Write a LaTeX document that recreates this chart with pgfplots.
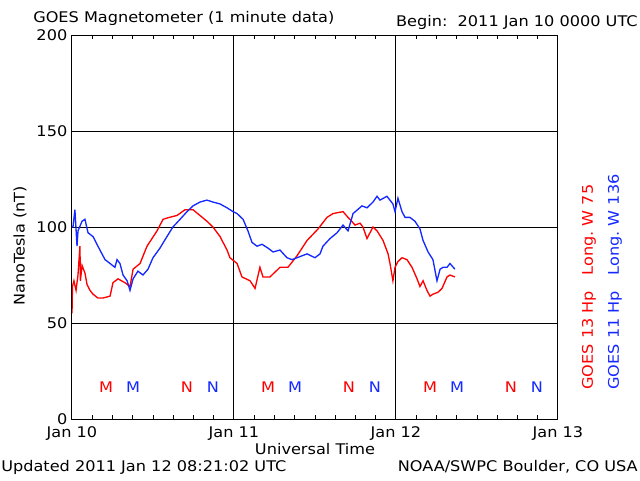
\documentclass[border=0pt]{standalone}
\usepackage{pgfplots}
\pgfplotsset{compat=1.18}
\usepackage{fontspec}
\setmainfont[FakeStretch=1.1]{DejaVu Sans}
\definecolor{gred}{RGB}{255,0,0}
\definecolor{gblue}{RGB}{20,40,255}
\begin{document}
\begin{tikzpicture}[font=\fontsize{11}{13}\selectfont]
\path[use as bounding box] (-54pt,-45.75pt) rectangle (426pt,314.25pt);
\begin{axis}[
  at={(0,0)}, anchor=south west,
  scale only axis, width=364.5pt, height=288pt,
  xmin=0, xmax=3, ymin=0, ymax=200,
  xtick={0,1,2,3}, xticklabels={Jan 10,Jan 11,Jan 12,Jan 13},
  minor xtick={0.125,0.25,0.375,0.5,0.625,0.75,0.875,1.125,1.25,1.375,1.5,1.625,1.75,1.875,2.125,2.25,2.375,2.5,2.625,2.75,2.875},
  ytick={0,50,100,150,200}, yticklabels={0,50,100,150,200},
  major tick length=0pt, minor tick length=3pt,
  tick align=inside, tick pos=both,
  xmajorgrids, ymajorgrids,
  major grid style={black, line width=0.75pt},
  axis line style={black, line width=0.75pt},
  every tick/.style={black, line width=0.6pt},
  xticklabel style={yshift=-2pt},
  clip=true,
]
% GOES 13 (red)
\addplot[gred, line width=1pt] coordinates {
(0.000,55)(0.003,69)(0.012,72)(0.025,67)(0.037,75)(0.049,90)(0.052,72)(0.062,80)
(0.080,76)(0.093,70)(0.111,67)(0.130,65)(0.160,63)(0.191,63)(0.235,64)(0.253,71)
(0.284,73)(0.327,71)(0.358,69)(0.377,78)(0.420,81)(0.463,90)(0.525,98)(0.562,104)
(0.600,105)(0.648,106)(0.698,109)(0.747,109)(0.790,106)(0.833,103)(0.870,100)(0.914,95)
(0.957,88)(0.975,84)(1.019,81)(1.049,74)(1.099,72)(1.130,68)(1.160,79)(1.179,74)
(1.222,74)(1.284,79)(1.333,79)(1.389,85)(1.451,93)(1.519,99)(1.574,105)(1.611,107)
(1.673,108)(1.704,105)(1.716,104)(1.747,101)(1.778,102)(1.796,100)(1.821,94)(1.858,100)
(1.883,98)(1.920,93)(1.951,86)(1.963,81)(1.981,72)(1.994,79)(2.012,82)(2.037,84)
(2.068,83)(2.099,79)(2.130,73)(2.148,69)(2.167,72)(2.191,67)(2.210,64)(2.228,65)
(2.259,66)(2.284,68)(2.315,74)(2.333,75)(2.364,74)
};
% GOES 11 (blue)
\addplot[gblue, line width=1pt] coordinates {
(0.000,100)(0.006,100)(0.018,109)(0.031,90)(0.037,98)(0.062,103)(0.080,104)(0.099,97)
(0.130,95)(0.154,91)(0.185,86)(0.204,83)(0.235,81)(0.265,79)(0.278,83)(0.296,81)
(0.315,75)(0.340,72)(0.358,67)(0.377,73)(0.407,77)(0.438,75)(0.469,78)(0.500,84)
(0.543,89)(0.586,95)(0.623,100)(0.667,104)(0.710,108)(0.747,111)(0.790,113)(0.833,114)
(0.870,113)(0.914,112)(0.957,110)(0.994,108)(1.019,107)(1.056,104)(1.086,98)(1.111,92)
(1.142,90)(1.173,91)(1.210,89)(1.241,87)(1.284,88)(1.327,84)(1.358,83)(1.389,84)
(1.451,86)(1.500,84)(1.531,86)(1.549,90)(1.593,94)(1.636,97)(1.673,101)(1.704,98)
(1.735,107)(1.790,111)(1.821,110)(1.858,113)(1.883,116)(1.901,114)(1.944,116)(1.981,112)
(1.994,108)(2.012,115)(2.037,108)(2.056,105)(2.086,105)(2.117,103)(2.148,99)(2.167,93)
(2.198,87)(2.228,83)(2.253,72)(2.272,78)(2.290,79)(2.315,79)(2.333,81)(2.364,78)
};
% M / N markers
\addplot[only marks, mark=text, /pgf/text mark={M}, /pgf/text mark as node=true,
  /pgf/text mark style={text=gred, inner sep=0pt, font=\fontsize{11}{13}\selectfont}]
  coordinates {(0.210,16.7)(1.210,16.7)(2.210,16.7)};
\addplot[only marks, mark=text, /pgf/text mark={M}, /pgf/text mark as node=true,
  /pgf/text mark style={text=gblue, inner sep=0pt, font=\fontsize{11}{13}\selectfont}]
  coordinates {(0.377,16.7)(1.377,16.7)(2.377,16.7)};
\addplot[only marks, mark=text, /pgf/text mark={N}, /pgf/text mark as node=true,
  /pgf/text mark style={text=gred, inner sep=0pt, font=\fontsize{11}{13}\selectfont}]
  coordinates {(0.710,16.7)(1.710,16.7)(2.710,16.7)};
\addplot[only marks, mark=text, /pgf/text mark={N}, /pgf/text mark as node=true,
  /pgf/text mark style={text=gblue, inner sep=0pt, font=\fontsize{11}{13}\selectfont}]
  coordinates {(0.870,16.7)(1.870,16.7)(2.870,16.7)};
\end{axis}
\node[anchor=west, inner sep=0pt] at (-29.25pt,300.75pt) {GOES Magnetometer (1 minute data)};
\node[anchor=east, inner sep=0pt] at (424.5pt,297.75pt) {Begin:\ \ 2011 Jan 10 0000 UTC};
\node[inner sep=0pt] at (182.25pt,-22.5pt) {Universal Time};
\node[anchor=west, inner sep=0pt] at (-53.25pt,-36pt) {Updated 2011 Jan 12 08:21:02 UTC};
\node[anchor=east, inner sep=0pt] at (424.5pt,-36pt) {NOAA/SWPC Boulder, CO USA};
\node[rotate=90, inner sep=0pt] at (-39pt,129.75pt) {NanoTesla (nT)};
\node[rotate=90, anchor=west, inner sep=0pt, text=gred] at (387.75pt,21.75pt) {GOES 13 Hp\ \ \ Long.\ W 75};
\node[rotate=90, anchor=west, inner sep=0pt, text=gblue] at (407.25pt,21.75pt) {GOES 11 Hp\ \ \ Long.\ W 136};
\end{tikzpicture}
\end{document}
